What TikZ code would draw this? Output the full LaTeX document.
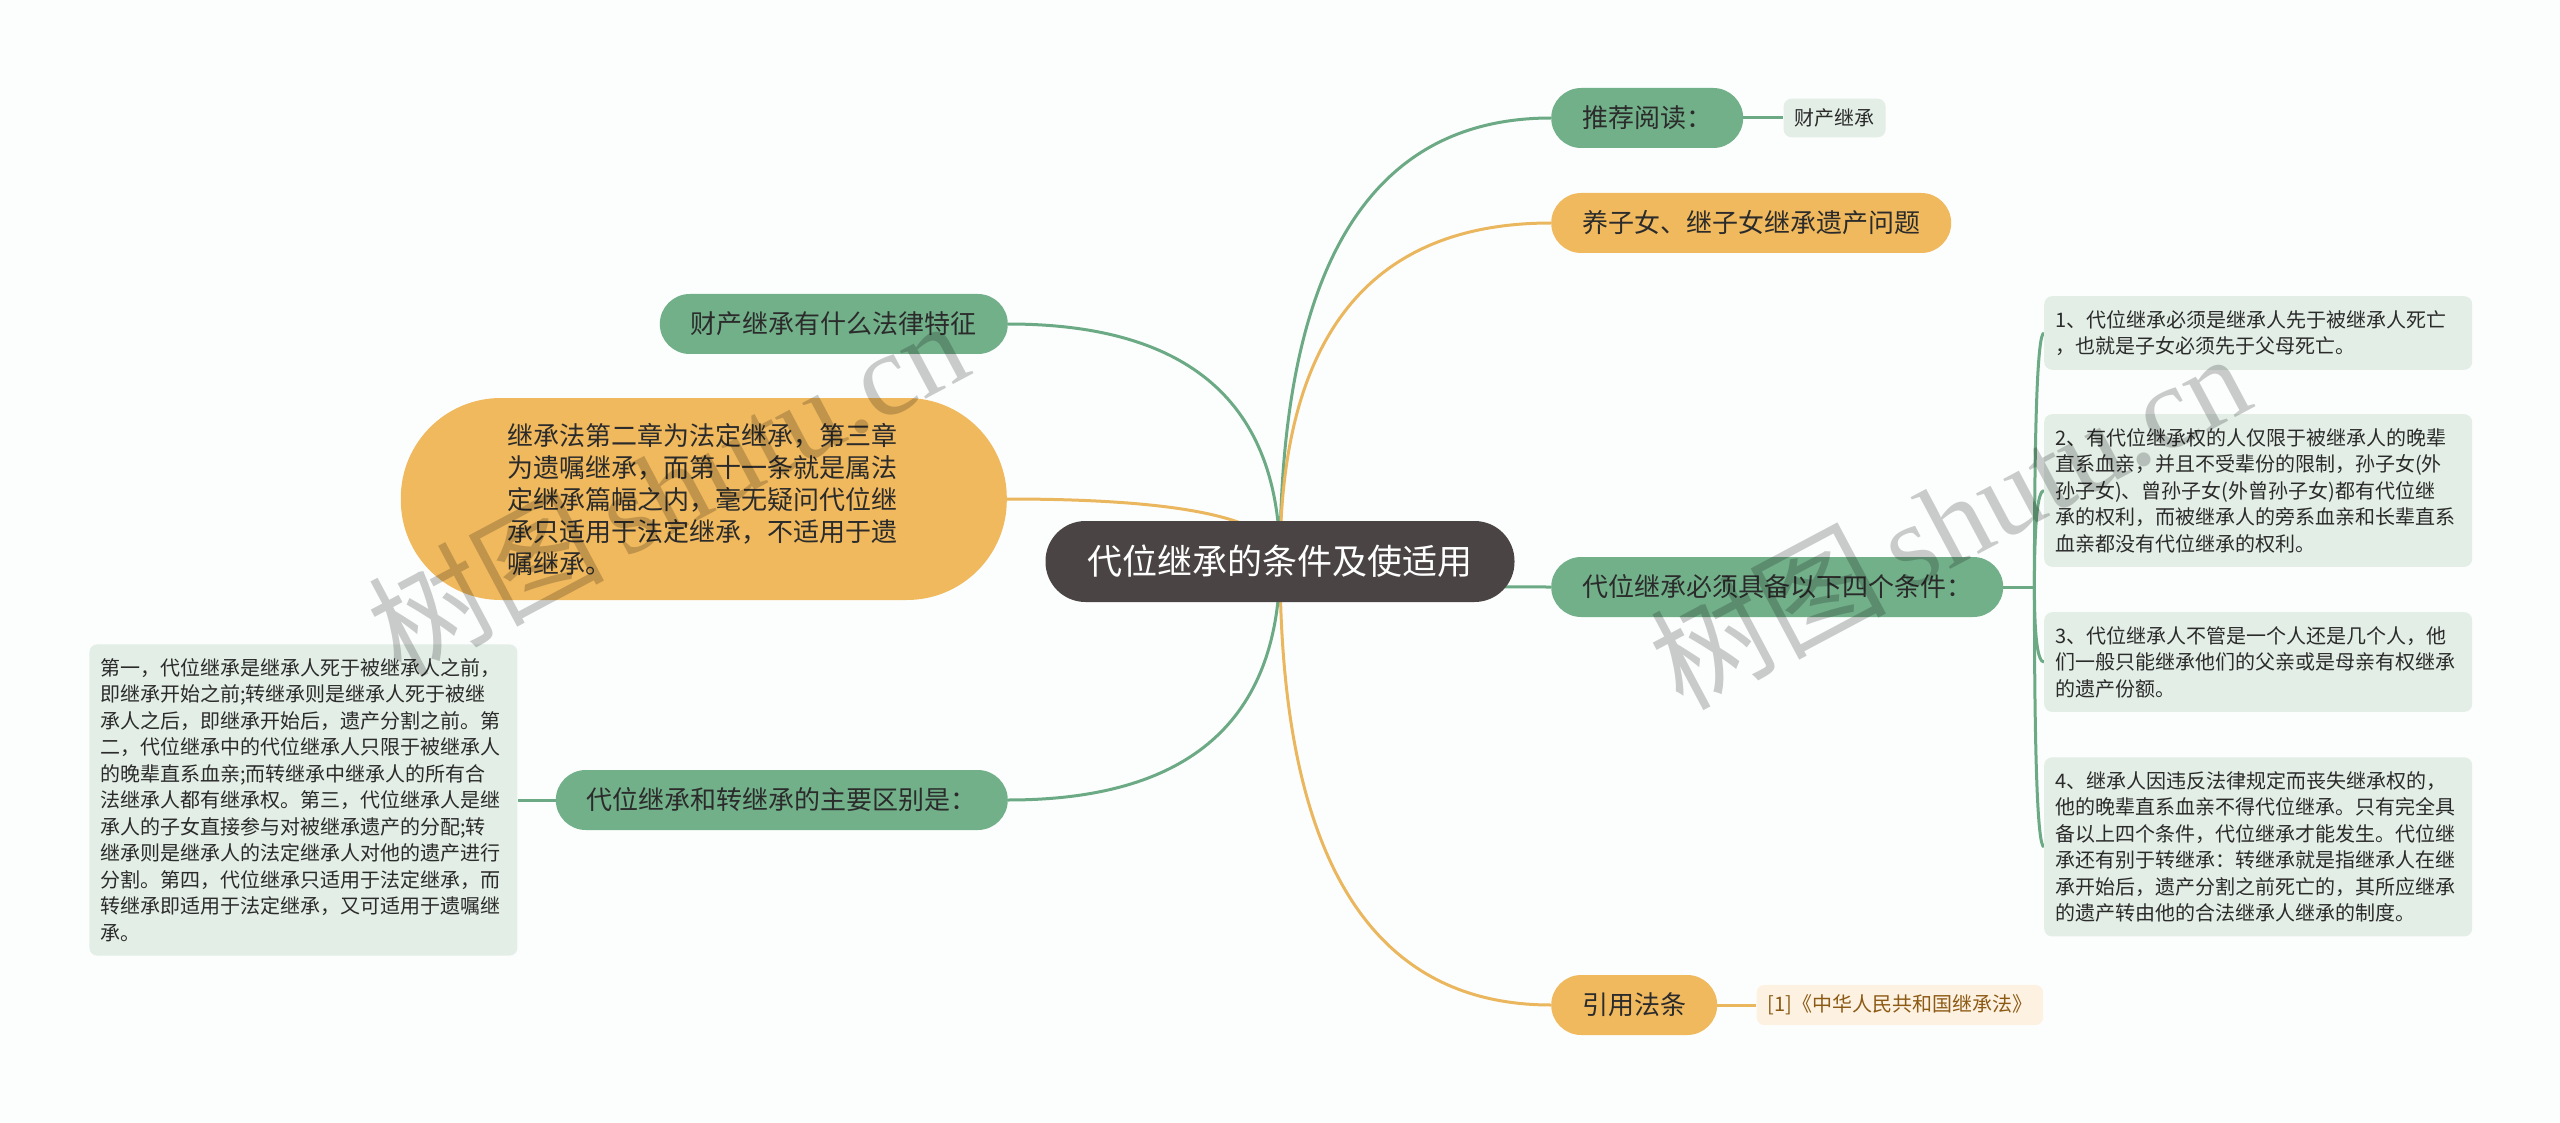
\documentclass[tikz,border=0pt]{standalone}
\usepackage{fontspec}
\setmainfont{Noto Sans CJK SC}
\newfontfamily\markfont{Liberation Serif}
\definecolor{RootGray}{HTML}{4A4544}
\definecolor{BranchGreen}{HTML}{72B08A}
\definecolor{BranchOrange}{HTML}{F0B95E}
\definecolor{LeafGreen}{HTML}{E3EEE6}
\definecolor{LeafOrange}{HTML}{FDF1E2}
\definecolor{CiteBrown}{HTML}{8B5A14}
\definecolor{LineGreen}{HTML}{6BAA84}
\definecolor{LineOrange}{HTML}{EBB75E}
\definecolor{TextDark}{HTML}{2B2B2B}
\definecolor{PageBg}{HTML}{FCFEFD}
\usetikzlibrary{positioning, calc, backgrounds}

\begin{document}
\begin{tikzpicture}[x=1pt, y=-1pt,
  root/.style={fill=RootGray, text=white, rounded corners=40pt,
    minimum height=81pt, inner xsep=42pt, font=\fontsize{35}{42}\selectfont},
  gbranch/.style={fill=BranchGreen, text=TextDark, rounded corners=30pt,
    minimum height=60pt, inner xsep=31pt, font=\fontsize{26}{32}\selectfont},
  obranch/.style={gbranch, fill=BranchOrange},
  lawbox/.style={obranch, rounded corners=100pt, minimum height=202pt,
    text width=392pt, inner xsep=107pt, align=left},
  gleaf/.style={fill=LeafGreen, text=TextDark, rounded corners=8pt,
    inner xsep=11pt, inner ysep=10pt, align=left,
    font=\fontsize{20}{26.5}\selectfont},
  textleaf/.style={gleaf, text width=406pt, inner ysep=14pt},
  oleaf/.style={gleaf, fill=LeafOrange, text=CiteBrown},
  gline/.style={draw=LineGreen, line width=3pt},
  oline/.style={draw=LineOrange, line width=3pt},
]
  \useasboundingbox (0,0) rectangle (2560,1123);

  \node[root] (root) at (1280,561.5) {代位继承的条件及使适用};

  % right side
  \node[gbranch, anchor=west] (read) at (1551,118) {推荐阅读：};
  \node[obranch, anchor=west] (adopt) at (1551,223) {养子女、继子女继承遗产问题};
  \node[gbranch, anchor=west] (cond) at (1551,587) {代位继承必须具备以下四个条件：};
  \node[obranch, anchor=west] (cite) at (1551,1005) {引用法条};

  \node[gleaf, right=40pt of read] (readleaf) {财产继承};
  \node[oleaf, right=39pt of cite] (citeleaf) {[1]《中华人民共和国继承法》};

  \node[textleaf, anchor=north west] (c1) at (2044,296)
    {1、代位继承必须是继承人先于被继承人死亡\\，也就是子女必须先于父母死亡。};
  \node[textleaf, below=44pt of c1] (c2)
    {2、有代位继承权的人仅限于被继承人的晚辈\\直系血亲，并且不受辈份的限制，孙子女(外\\孙子女)、曾孙子女(外曾孙子女)都有代位继\\承的权利，而被继承人的旁系血亲和长辈直系\\血亲都没有代位继承的权利。};
  \node[textleaf, below=45pt of c2] (c3)
    {3、代位继承人不管是一个人还是几个人，他\\们一般只能继承他们的父亲或是母亲有权继承\\的遗产份额。};
  \node[textleaf, below=45pt of c3] (c4)
    {4、继承人因违反法律规定而丧失继承权的，\\他的晚辈直系血亲不得代位继承。只有完全具\\备以上四个条件，代位继承才能发生。代位继\\承还有别于转继承：转继承就是指继承人在继\\承开始后，遗产分割之前死亡的，其所应继承\\的遗产转由他的合法继承人继承的制度。};

  % left side
  \node[gbranch, anchor=east] (feat) at (1008,324) {财产继承有什么法律特征};
  \node[lawbox, anchor=east] (law) at (1007,499)
    {继承法第二章为法定继承，第三章\\为遗嘱继承，而第十一条就是属法\\定继承篇幅之内，毫无疑问代位继\\承只适用于法定继承，不适用于遗\\嘱继承。};
  \node[gbranch, anchor=east] (diff) at (1008,800) {代位继承和转继承的主要区别是：};

  \node[textleaf, left=38pt of diff] (diffleaf)
    {第一，代位继承是继承人死于被继承人之前，\\即继承开始之前;转继承则是继承人死于被继\\承人之后，即继承开始后，遗产分割之前。第\\二，代位继承中的代位继承人只限于被继承人\\的晚辈直系血亲;而转继承中继承人的所有合\\法继承人都有继承权。第三，代位继承人是继\\承人的子女直接参与对被继承遗产的分配;转\\继承则是继承人的法定继承人对他的遗产进行\\分割。第四，代位继承只适用于法定继承，而\\转继承即适用于法定继承，又可适用于遗嘱继\\承。};

  \coordinate (fork) at ($(cond.east)+(31,0)$);

  \begin{scope}[on background layer]
    \fill[PageBg] (0,0) rectangle (2560,1123);
    \foreach \dst/\anc/\sty in {read/west/gline, adopt/west/oline,
        cond/west/gline, cite/west/oline, feat/east/gline,
        law/east/oline, diff/east/gline}
      \draw[\sty] (root.center)
        .. controls ($(root.center)!0.667!(root.center |- \dst.\anc)$)
        and ($(\dst.\anc)!0.667!(root.center |- \dst.\anc)$) .. (\dst.\anc);
    \draw[gline] (read) -- (readleaf);
    \draw[oline] (cite) -- (citeleaf);
    \draw[gline] (diff) -- (diffleaf);
    \draw[gline] (cond.east) -- (fork);
    \foreach \leaf in {c1, c2, c3, c4}
      \draw[gline] (fork)
        .. controls ($(fork)!0.667!(fork |- \leaf.west)$)
        and ($(\leaf.west)!0.667!(fork |- \leaf.west)$) .. (\leaf.west);
  \end{scope}

  % watermark
  \node[rotate=28, text=black, opacity=0.2, font=\fontsize{118}{118}\selectfont]
    (markleft) at (667,486) {树图\,{\markfont shutu.cn}};
  \node[rotate=28, text=black, opacity=0.2, font=\fontsize{118}{118}\selectfont]
    (markright) at (1949,519) {树图\,{\markfont shutu.cn}};
\end{tikzpicture}
\end{document}
